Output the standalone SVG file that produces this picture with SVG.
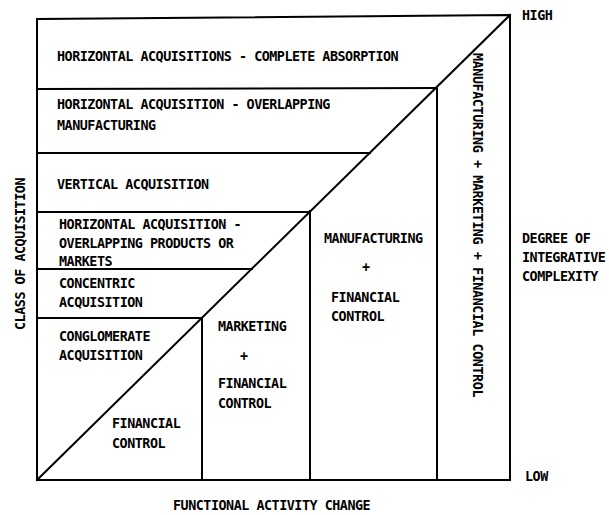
<svg xmlns="http://www.w3.org/2000/svg" width="609" height="515" viewBox="0 0 609 515">
<style>
text{font-family:"DejaVu Sans Mono","Liberation Mono",monospace;font-weight:bold;font-size:13.4px;letter-spacing:-0.48px;fill:#000}
.ln{stroke:#000;stroke-width:2;fill:none;stroke-linecap:square}
</style>
<rect width="609" height="515" fill="#fff"/>
<g id="connectors">
<path class="ln" d="M37,19 L510,15 L510,480 L37,480 Z"/>
<line class="ln" x1="37" y1="480" x2="510" y2="15"/>
<line class="ln" x1="37" y1="89" x2="437" y2="88"/>
<line class="ln" x1="37" y1="153" x2="370" y2="153"/>
<line class="ln" x1="37" y1="212" x2="310" y2="212"/>
<line class="ln" x1="37" y1="269" x2="252" y2="269"/>
<line class="ln" x1="37" y1="318" x2="202" y2="318"/>
<line class="ln" x1="437" y1="88" x2="437" y2="480"/>
<line class="ln" x1="310" y1="211" x2="310" y2="480"/>
<line class="ln" x1="202" y1="318" x2="202" y2="480"/>
</g>
<g id="horizontal-complete">
<text x="57" y="61">HORIZONTAL ACQUISITIONS - COMPLETE ABSORPTION</text>
</g>
<g id="horizontal-manufacturing">
<text x="57" y="109">HORIZONTAL ACQUISITION - OVERLAPPING</text>
<text x="57" y="130">MANUFACTURING</text>
</g>
<g id="vertical">
<text x="57" y="189">VERTICAL ACQUISITION</text>
</g>
<g id="horizontal-products">
<text x="59" y="229">HORIZONTAL ACQUISITION -</text>
<text x="59" y="248">OVERLAPPING PRODUCTS OR</text>
<text x="59" y="266">MARKETS</text>
</g>
<g id="concentric">
<text x="59" y="288">CONCENTRIC</text>
<text x="59" y="307">ACQUISITION</text>
</g>
<g id="conglomerate">
<text x="59" y="341">CONGLOMERATE</text>
<text x="59" y="360">ACQUISITION</text>
</g>
<g id="financial">
<text x="112" y="428">FINANCIAL</text>
<text x="112" y="448">CONTROL</text>
</g>
<g id="marketing">
<text x="218" y="331">MARKETING</text>
<text x="240" y="361">+</text>
<text x="218" y="388">FINANCIAL</text>
<text x="218" y="408">CONTROL</text>
</g>
<g id="manufacturing">
<text x="324" y="243">MANUFACTURING</text>
<text x="362" y="272">+</text>
<text x="331" y="302">FINANCIAL</text>
<text x="331" y="321">CONTROL</text>
</g>
<g id="all-functions">
<text transform="translate(473,53) rotate(90)" textLength="344" lengthAdjust="spacing">MANUFACTURING + MARKETING + FINANCIAL CONTROL</text>
</g>
<g id="axes">
<text x="522" y="20">HIGH</text>
<text x="525" y="481">LOW</text>
<text x="522" y="243">DEGREE OF</text>
<text x="522" y="262">INTEGRATIVE</text>
<text x="522" y="281">COMPLEXITY</text>
<text x="173" y="510">FUNCTIONAL ACTIVITY CHANGE</text>
<text transform="translate(25,330) rotate(-90)" textLength="152" lengthAdjust="spacing">CLASS OF ACQUISITION</text>
</g>
</svg>
